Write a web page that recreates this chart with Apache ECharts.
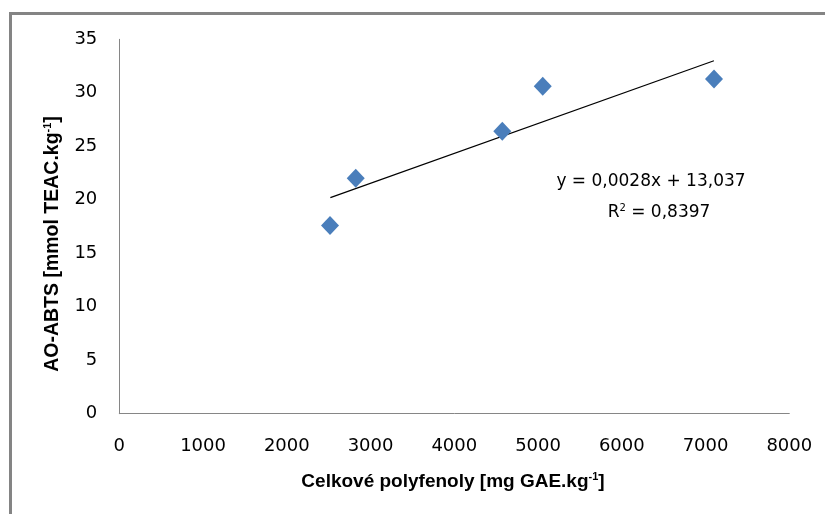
<!DOCTYPE html>
<html>
<head>
<meta charset="utf-8">
<script src="https://cdn.jsdelivr.net/npm/echarts@6/dist/echarts.min.js"></script>
<style>
html,body{margin:0;padding:0;background:#fff;}
#chart{width:825px;height:514px;}
</style>
</head>
<body>
<div id="chart"></div>
<script>
// Data
const polyphenols = [2516, 2823, 4573, 5056, 7101];     // Celkové polyfenoly [mg GAE.kg-1]
const aoAbts = [17.6, 22.0, 26.4, 30.6, 31.3];          // AO-ABTS [mmol TEAC.kg-1]
const trendX = [2520, 7100];                            // trendline ends (x)
const trendY = [20.2, 33.0];                            // trendline ends (y)
const xTicks = [0, 1000, 2000, 3000, 4000, 5000, 6000, 7000, 8000];
const yTicks = [0, 5, 10, 15, 20, 25, 30, 35];
const equationLine1 = 'y = 0,0028x + 13,037';
const equationLine2 = 'R{sup|2} = 0,8397';
const xTitle = 'Celkové polyfenoly [mg GAE.kg{sup|-1}]';
const yTitle = 'AO-ABTS [mmol TEAC.kg{sup|-1}]';

const chart = echarts.init(document.getElementById('chart'), null, {renderer: 'canvas'});

const scatterData = polyphenols.map((x, i) => [x, aoAbts[i]]);
const trendData = trendX.map((x, i) => [x, trendY[i]]);

const tickFont = {fontFamily: 'DejaVu Sans', fontSize: 18, color: '#000'};

chart.setOption({
  animation: false,
  backgroundColor: '#fff',
  grid: {left: 119.3, right: 35.7, top: 39.3, bottom: 100.3, containLabel: false},
  xAxis: {
    type: 'value',
    min: xTicks[0], max: xTicks[xTicks.length - 1], interval: 1000,
    axisLine: {show: true, lineStyle: {color: '#868686', width: 1}},
    axisTick: {show: false},
    splitLine: {show: false},
    axisLabel: Object.assign({margin: 24, formatter: v => String(v)}, tickFont)
  },
  yAxis: {
    type: 'value',
    min: yTicks[0], max: yTicks[yTicks.length - 1], interval: 5,
    axisLine: {show: true, lineStyle: {color: '#868686', width: 1}},
    axisTick: {show: false},
    splitLine: {show: false},
    axisLabel: Object.assign({margin: 22, formatter: v => String(v)}, tickFont)
  },
  series: [
    {
      type: 'line',
      data: trendData,
      symbol: 'none',
      lineStyle: {color: '#000', width: 1.2},
      z: 2,
      silent: true
    },
    {
      type: 'scatter',
      data: scatterData,
      symbol: 'diamond',
      symbolSize: [18, 19],
      itemStyle: {color: '#4a7ebb', opacity: 1},
      z: 3
    }
  ],
  graphic: [
    {
      type: 'rect',
      shape: {x: 10.5, y: 13.5, width: 1000, height: 1000},
      style: {fill: 'none', stroke: '#848484', lineWidth: 3},
      silent: true
    },
    {
      type: 'text',
      x: 651, y: 182,
      style: {
        text: equationLine1,
        font: '17px "DejaVu Sans"',
        fill: '#000',
        align: 'center', verticalAlign: 'middle'
      }
    },
    {
      type: 'text',
      x: 659, y: 213,
      style: {
        text: equationLine2,
        font: '17px "DejaVu Sans"',
        fill: '#000',
        align: 'center', verticalAlign: 'middle',
        rich: {
          sup: {fontSize: 10, fontFamily: 'DejaVu Sans', fill: '#000', padding: [0, 0, 9, 0]}
        }
      }
    },
    {
      type: 'text',
      x: 453, y: 482,
      style: {
        text: xTitle,
        fontFamily: 'Liberation Sans', fontSize: 19, fontWeight: 'bold',
        fill: '#000',
        align: 'center', verticalAlign: 'middle',
        rich: {
          sup: {fontSize: 11, fontFamily: 'Liberation Sans', fontWeight: 'bold', fill: '#000', padding: [0, 0, 10, 0]}
        }
      }
    },
    {
      type: 'text',
      x: 53, y: 244,
      rotation: Math.PI / 2,
      style: {
        text: yTitle,
        fontFamily: 'Liberation Sans', fontSize: 19.5, fontWeight: 'bold',
        fill: '#000',
        align: 'center', verticalAlign: 'middle',
        rich: {
          sup: {fontSize: 11, fontFamily: 'Liberation Sans', fontWeight: 'bold', fill: '#000', padding: [0, 0, 10, 0]}
        }
      }
    }
  ]
});
</script>
</body>
</html>
